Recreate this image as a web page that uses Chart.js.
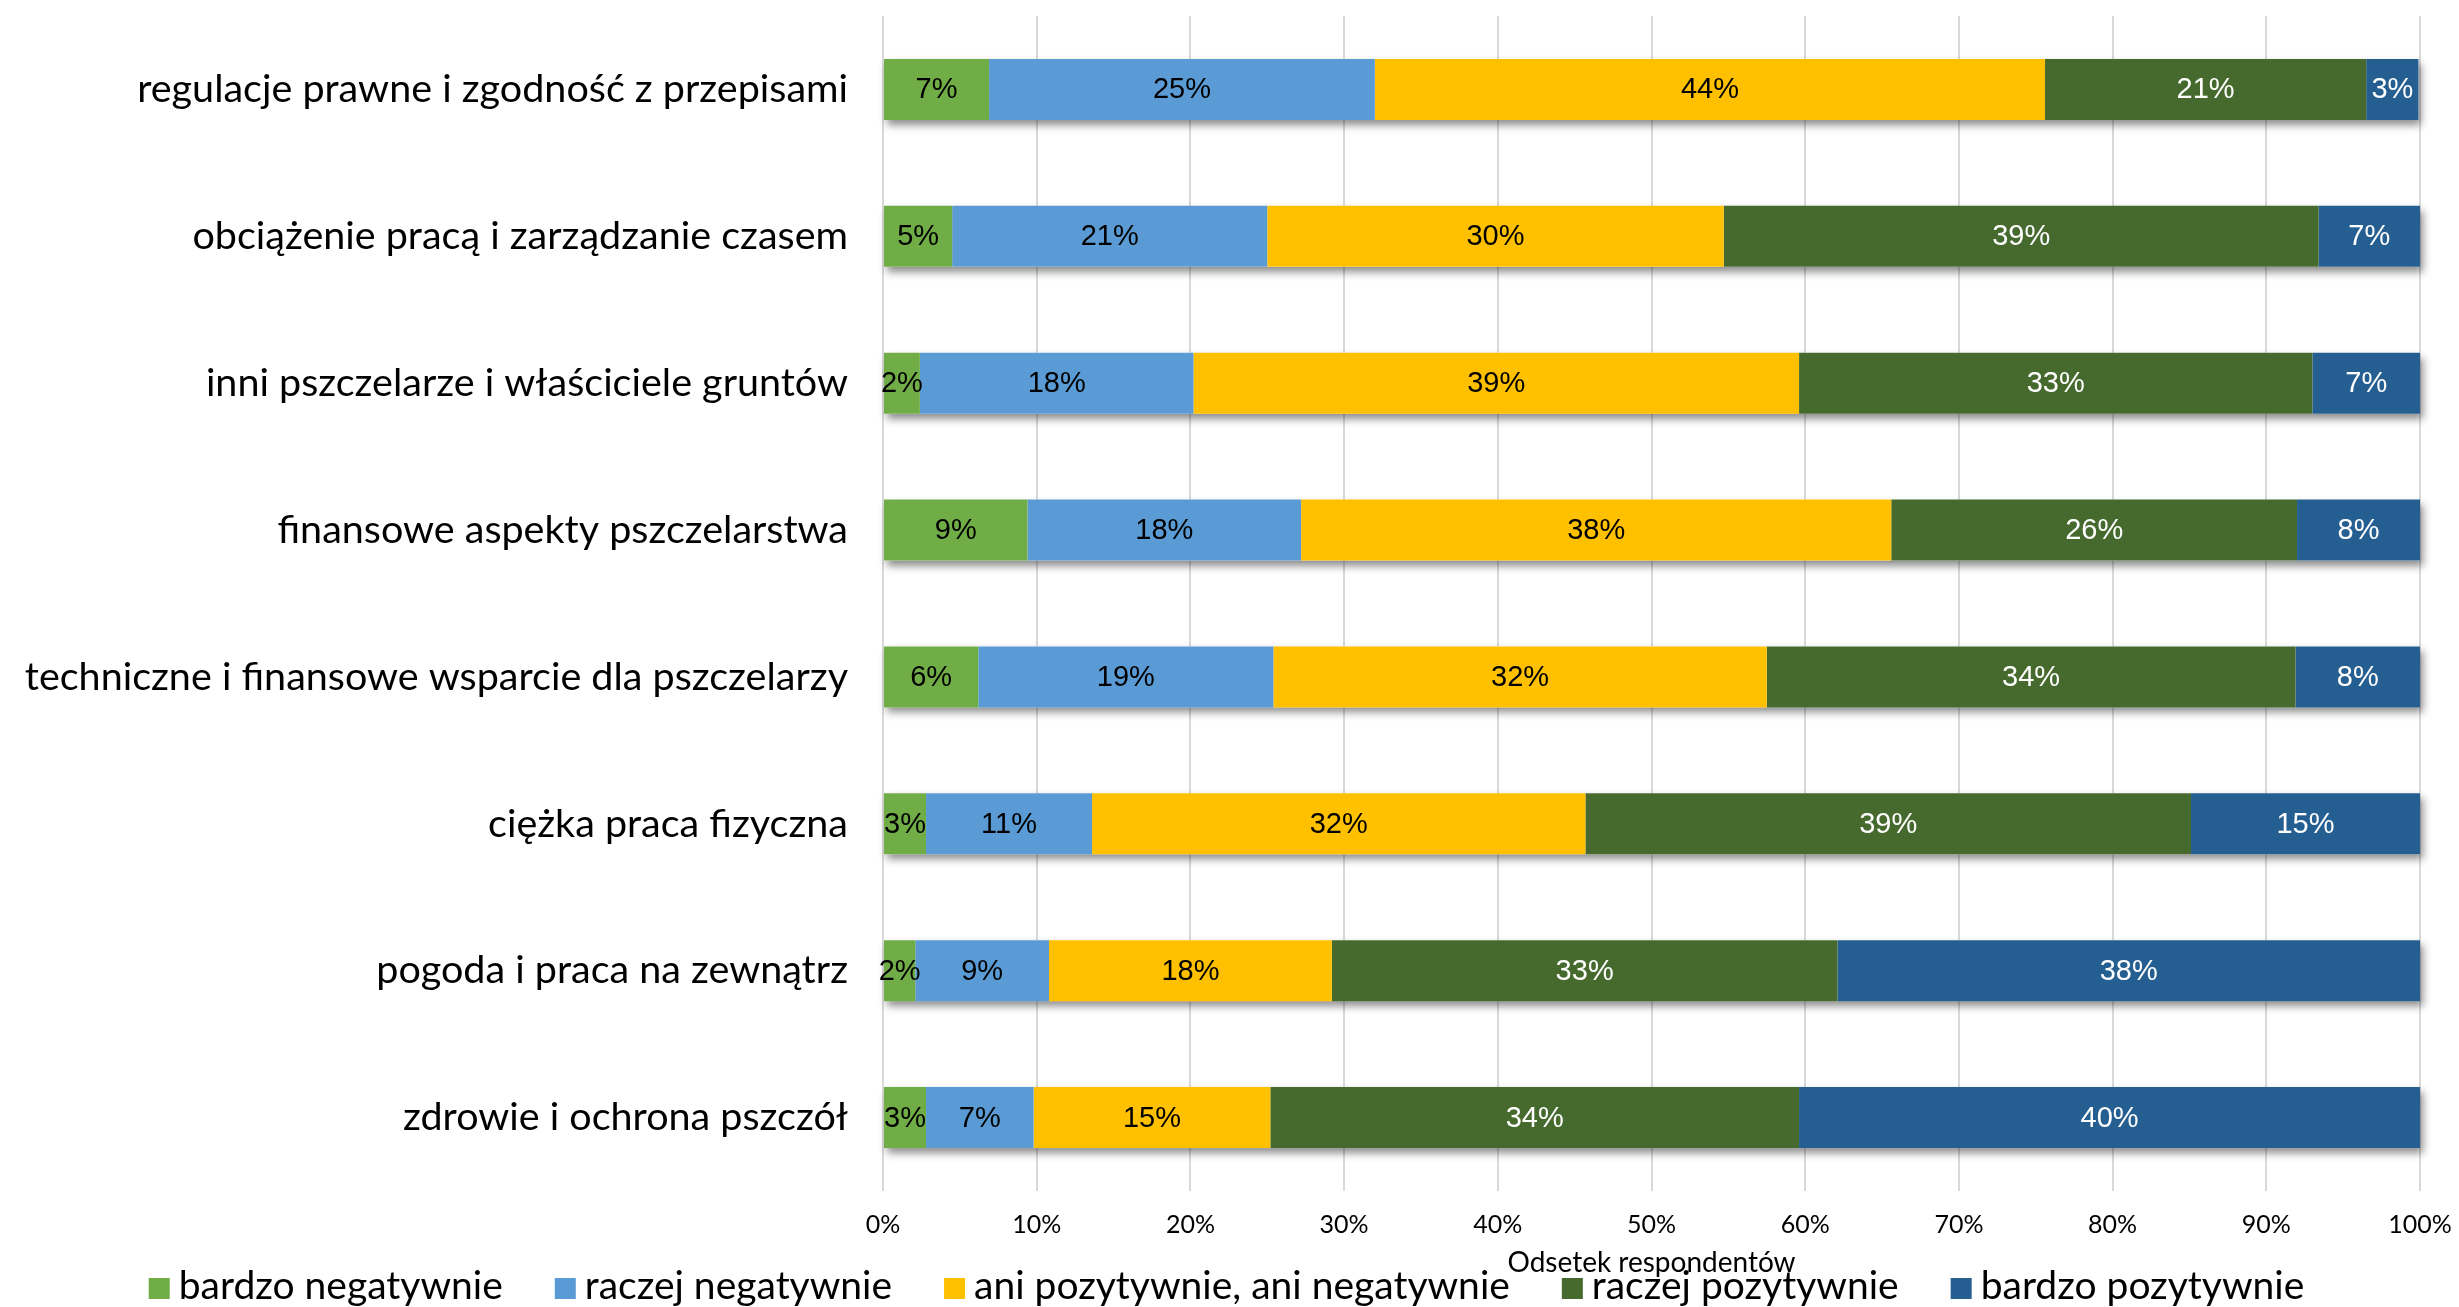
<!DOCTYPE html>
<html>
<head>
<meta charset="utf-8">
<script src="https://cdn.jsdelivr.net/npm/chart.js@4.4.1/dist/chart.umd.min.js"></script>
<style>
  html, body { margin: 0; padding: 0; background: #fff; overflow: hidden; }
  #wrap { width: 2459px; height: 1307px; position: relative; }
</style>
</head>
<body>
<div id="wrap"><canvas id="chart"></canvas></div>
<script>
const categories = [
  'regulacje prawne i zgodność z przepisami',
  'obciążenie pracą i zarządzanie czasem',
  'inni pszczelarze i właściciele gruntów',
  'finansowe aspekty pszczelarstwa',
  'techniczne i finansowe wsparcie dla pszczelarzy',
  'ciężka praca fizyczna',
  'pogoda i praca na zewnątrz',
  'zdrowie i ochrona pszczół'
];
const seriesNames = ['bardzo negatywnie', 'raczej negatywnie', 'ani pozytywnie, ani negatywnie', 'raczej pozytywnie', 'bardzo pozytywnie'];
const bardzoNegatywnie = [6.9, 4.5, 2.4, 9.4, 6.2, 2.8, 2.1, 2.8];
const raczejNegatywnie = [25.1, 20.5, 17.8, 17.8, 19.2, 10.8, 8.7, 7.0];
const aniAni = [43.6, 29.7, 39.4, 38.4, 32.1, 32.1, 18.4, 15.4];
const raczejPozytywnie = [20.9, 38.7, 33.4, 26.4, 34.4, 39.4, 32.9, 34.4];
const bardzoPozytywnie = [3.4, 6.6, 7.0, 8.0, 8.1, 14.9, 37.9, 40.4];
const xTicks = [0, 10, 20, 30, 40, 50, 60, 70, 80, 90, 100];

const colors = ['#70AD47', '#5B9BD5', '#FFC000', '#466A2E', '#255E91'];
const labelColors = ['#000', '#000', '#000', '#fff', '#fff'];
const series = [bardzoNegatywnie, raczejNegatywnie, aniAni, raczejPozytywnie, bardzoPozytywnie];

// shadow under each whole bar, drawn before the segments
const barShadow = {
  id: 'barShadow',
  beforeDatasetsDraw(chart) {
    const ctx = chart.ctx;
    const metas = chart.getSortedVisibleDatasetMetas();
    ctx.save();
    ctx.shadowColor = 'rgba(0,0,0,0.45)';
    ctx.shadowBlur = 8;
    ctx.shadowOffsetX = 3;
    ctx.shadowOffsetY = 5;
    ctx.fillStyle = '#ffffff';
    categories.forEach((c, i) => {
      let x0 = Infinity, x1 = -Infinity, y0 = 0, h = 0;
      metas.forEach(m => {
        const p = m.data[i].getProps(['x', 'y', 'base', 'height'], true);
        x0 = Math.min(x0, p.x, p.base);
        x1 = Math.max(x1, p.x, p.base);
        y0 = p.y - p.height / 2;
        h = p.height;
      });
      ctx.fillRect(x0, y0, x1 - x0, h);
    });
    ctx.restore();
  },
  afterDatasetsDraw(chart) {
    const ctx = chart.ctx;
    ctx.save();
    ctx.font = '29px "Liberation Sans", Arial, sans-serif';
    ctx.textAlign = 'center';
    ctx.textBaseline = 'middle';
    chart.data.datasets.forEach((ds, di) => {
      const meta = chart.getDatasetMeta(di);
      ctx.fillStyle = labelColors[di];
      meta.data.forEach((bar, i) => {
        const p = bar.getProps(['x', 'y', 'base'], true);
        ctx.fillText(Math.round(ds.data[i]) + '%', (p.x + p.base) / 2, p.y + 1);
      });
    });
    ctx.restore();
  }
};

// legend row at the bottom
const bottomLegend = {
  id: 'bottomLegend',
  afterDraw(chart) {
    const ctx = chart.ctx;
    ctx.save();
    ctx.font = '39px Lato, sans-serif';
    const box = 21, gap = 9, spacing = 52;
    const widths = seriesNames.map(n => ctx.measureText(n).width);
    let total = widths.reduce((a, w) => a + box + gap + w, 0) + spacing * (seriesNames.length - 1);
    let x = chart.width / 2 - 3 - total / 2;
    const baseY = 1299;
    ctx.textBaseline = 'alphabetic';
    ctx.textAlign = 'left';
    seriesNames.forEach((n, i) => {
      ctx.fillStyle = colors[i];
      ctx.fillRect(x, baseY - box, box, box);
      ctx.fillStyle = '#000';
      ctx.fillText(n, x + box + gap, baseY);
      x += box + gap + widths[i] + spacing;
    });
    ctx.restore();
  }
};

new Chart('chart', {
  type: 'bar',
  data: {
    labels: categories,
    datasets: series.map((d, i) => ({
      label: seriesNames[i],
      data: d,
      backgroundColor: colors[i],
      borderWidth: 0,
      barPercentage: 0.415,
      categoryPercentage: 1
    }))
  },
  options: {
    indexAxis: 'y',
    responsive: true,
    maintainAspectRatio: false,
    animation: false,
    layout: { padding: { top: 16, right: 39, left: 0, bottom: 0 } },
    plugins: {
      legend: { display: false },
      tooltip: { enabled: false }
    },
    scales: {
      x: {
        stacked: true,
        min: 0,
        max: 100,
        afterBuildTicks: (s) => { s.ticks = xTicks.map(v => ({ value: v })); },
        afterFit: (s) => { s.height = 116; s.paddingLeft = 0; s.paddingRight = 0; },
        ticks: {
          padding: 19,
          color: '#000',
          font: { family: 'Lato', size: 25 },
          callback: (v) => v + '%'
        },
        grid: { color: '#d9d9d9', lineWidth: 2, drawTicks: false },
        border: { display: false },
        title: {
          display: true,
          text: 'Odsetek respondentów',
          color: '#000',
          font: { family: 'Lato', size: 28 },
          padding: { top: 0, bottom: 27 }
        }
      },
      y: {
        stacked: true,
        afterFit: (s) => { s.width = 883; s.paddingTop = 0; s.paddingBottom = 0; },
        ticks: {
          padding: 35,
          color: '#000',
          font: { family: 'Lato', size: 39.5 }
        },
        grid: { display: false, drawTicks: false },
        border: { display: false }
      }
    }
  },
  plugins: [barShadow, bottomLegend]
});
</script>
</body>
</html>
